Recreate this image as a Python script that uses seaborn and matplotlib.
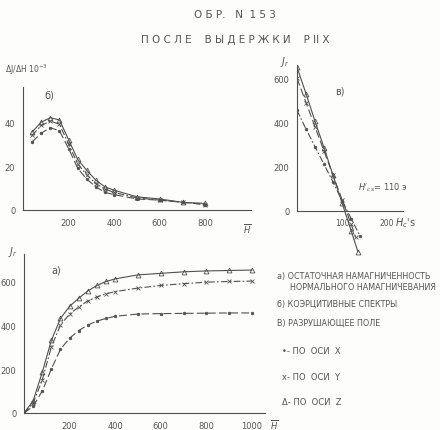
import matplotlib
matplotlib.use("Agg")
import matplotlib.pyplot as plt
import seaborn as sns
from matplotlib.ticker import FixedLocator, FixedFormatter

# б) коэрцитивные спектры
h_spec = [40, 80, 120, 160, 200, 240, 280, 320, 360, 400, 500, 600, 700, 800]
spec_z = [35.5, 40, 42, 41, 32, 23, 18, 13.5, 10.5, 9, 6, 5, 3.5, 3]
spec_y = [34, 38.5, 40.5, 39, 30, 21, 16, 12, 9.5, 8, 5.5, 4.5, 3.5, 2.5]
spec_x = [31, 35, 37.5, 36, 28, 19, 14, 10.5, 8, 7, 5, 4.5, 3.5, 2.5]

# в) разрушающее поле
hcs_z = [0, 20, 40, 60, 80, 100, 120, 135]
dest_z = [650, 530, 405, 285, 160, 35, -90, -185]
hcs_y = [0, 20, 40, 60, 80, 100, 120, 130]
dest_y = [600, 490, 380, 270, 160, 50, -60, -120]
hcs_x = [0, 20, 40, 60, 80, 100, 120, 140]
dest_x = [455, 370, 290, 210, 130, 45, -35, -115]

# а) остаточная намагниченность
h_rem = [0, 40, 80, 120, 160, 200, 240, 280, 320, 360, 400, 500, 600, 700, 800, 900, 1000]
rem_z = [0, 55, 185, 330, 430, 485, 522, 555, 580, 598, 610, 628, 635, 642, 646, 648, 650]
rem_y = [0, 45, 150, 300, 400, 450, 482, 510, 528, 542, 552, 568, 580, 588, 595, 598, 600]
rem_x = [0, 30, 100, 200, 290, 340, 375, 400, 418, 430, 440, 450, 452, 453, 454, 455, 455]

sns.set_style("white")
plt.rcParams["font.family"] = ["DejaVu Sans"]

W, H = 440, 431
INK = "#505050"
TXT = "#555555"
fig = plt.figure(figsize=(W / 100, H / 100), dpi=100, facecolor="#fdfdfc")


def rect(x0, y0, x1, y1):
    return [x0 / W, 1 - y1 / H, (x1 - x0) / W, (y1 - y0) / H]


def style_axes(ax):
    ax.set_facecolor("none")
    for s in ["top", "right"]:
        ax.spines[s].set_visible(False)
    for s in ["left", "bottom"]:
        ax.spines[s].set_color(INK)
        ax.spines[s].set_linewidth(0.8)
    ax.tick_params(direction="inout", length=3, width=0.6, colors=INK,
                   labelsize=6, labelcolor=TXT, pad=4)
    ax.set_xlabel("")
    ax.set_ylabel("")


def set_ticks(ax, axis, ticks, labels):
    a = ax.xaxis if axis == "x" else ax.yaxis
    a.set_major_locator(FixedLocator(ticks))
    a.set_major_formatter(FixedFormatter(labels))


def draw(ax, x, y, ls, marker, ms):
    sns.lineplot(x=x, y=y, ax=ax, color=INK, lw=0.8, linestyle=ls,
                 marker=marker, markersize=ms,
                 markerfacecolor="none" if marker == "^" else INK,
                 markeredgecolor=INK, markeredgewidth=0.6, sort=False)


DASH = (0, (7, 3))
DASHDOT = (0, (6, 2, 1.5, 2))

# б)
ax_b = fig.add_axes(rect(23, 88, 251, 211))
draw(ax_b, h_spec, spec_z, "-", "^", 3.5)
draw(ax_b, h_spec, spec_y, DASHDOT, "x", 2.5)
draw(ax_b, h_spec, spec_x, DASH, "o", 1.8)
ax_b.set_xlim(0, 1000)
ax_b.set_ylim(0, 56)
style_axes(ax_b)
set_ticks(ax_b, "x", list(range(100, 1000, 100)),
          ["", "200", "", "400", "", "600", "", "800", ""])
set_ticks(ax_b, "y", [0, 10, 20, 30, 40, 50], ["0", "", "20", "", "40", ""])
ax_b.text(985, -5, r"$\overline{H}$", ha="center", va="top", fontsize=6, color=TXT)
ax_b.text(95, 51, "б)", fontsize=7, color=TXT)

# в)
ax_v = fig.add_axes(rect(297, 66, 403, 256))
draw(ax_v, hcs_z, dest_z, "-", "^", 3.5)
draw(ax_v, hcs_y, dest_y, DASH, "x", 2.5)
draw(ax_v, hcs_x, dest_x, DASHDOT, "o", 1.8)
ax_v.set_xlim(0, 235)
ax_v.set_ylim(-200, 660)
style_axes(ax_v)
ax_v.spines["bottom"].set_position(("data", 0))
ax_v.spines["left"].set_bounds(0, 660)
set_ticks(ax_v, "x", [50, 100, 150, 200], ["", "100", "", "200"])
set_ticks(ax_v, "y", [0, 100, 200, 300, 400, 500, 600],
          ["0", "", "200", "", "400", "", "600"])
ax_v.tick_params(axis="x", labelsize=5.5)
ax_v.text(218, -22, r"$H_{c}$'s", fontsize=7, color=TXT, va="top")
ax_v.text(135, 95, r"$H'_{cs}$= 110 э", fontsize=6, color=TXT)
ax_v.text(85, 530, "в)", fontsize=7, color=TXT)

# а)
ax_a = fig.add_axes(rect(24, 255, 265, 414))
draw(ax_a, h_rem, rem_z, "-", "^", 3.5)
draw(ax_a, h_rem, rem_y, DASHDOT, "x", 2.5)
draw(ax_a, h_rem, rem_x, DASH, "o", 1.8)
ax_a.set_xlim(0, 1057)
ax_a.set_ylim(0, 723)
style_axes(ax_a)
set_ticks(ax_a, "x", list(range(100, 1100, 100)),
          ["", "200", "", "400", "", "600", "", "800", "", "1000"])
set_ticks(ax_a, "y", list(range(0, 700, 100)), ["0", "", "200", "", "400", "", "600"])
ax_a.text(1095, -50, r"$\overline{H}$", ha="center", va="center", fontsize=6, color=TXT)
ax_a.text(120, 640, "а)", fontsize=7, color=TXT)


def ftext(x, y, s, size=6, ha="left"):
    fig.text(x / W, 1 - y / H, s, fontsize=size, color=TXT, ha=ha, va="center")


ftext(235, 15, "О Б Р.   N  1 5 3", 7.5, "center")
ftext(235, 40, "П О С Л Е    В Ы Д Е Р Ж К И    Р II Х", 7.5, "center")
ftext(5, 70, r"ΔJ/ΔH $10^{-3}$", 5.5)
ftext(8, 252, r"$J_{r}$", 7)
ftext(280, 62, r"$J_{r}$", 7)

ftext(277, 276, "а) ОСТАТОЧНАЯ НАМАГНИЧЕННОСТЬ", 5.8)
ftext(290, 287, "НОРМАЛЬНОГО НАМАГНИЧЕВАНИЯ", 5.8)
ftext(277, 304, "б) КОЭРЦИТИВНЫЕ СПЕКТРЫ", 5.8)
ftext(277, 323, "В) РАЗРУШАЮЩЕЕ ПОЛЕ", 5.8)
ftext(282, 352, "•- ПО  ОСИ  X", 6)
ftext(282, 378, "x- ПО  ОСИ  Y", 6)
ftext(282, 403, "Δ- ПО  ОСИ  Z", 6)

fig.savefig("out.png", dpi=100, facecolor=fig.get_facecolor())
